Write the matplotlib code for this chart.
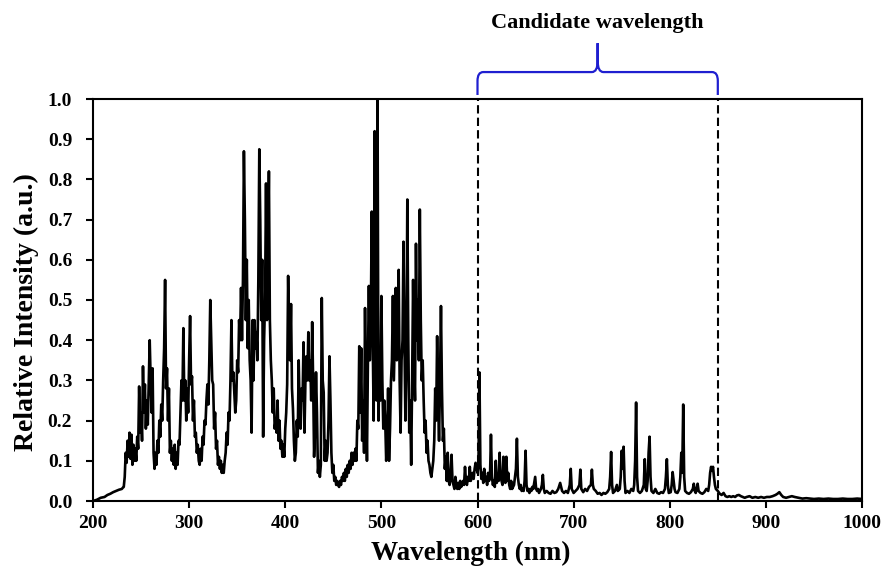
import numpy as np
import matplotlib
matplotlib.use("Agg")
import matplotlib.pyplot as plt
import matplotlib.transforms as mtransforms
from matplotlib.path import Path
from matplotlib.patches import PathPatch

plt.rcParams['font.family'] = ['Liberation Serif', 'DejaVu Serif']
plt.rcParams['font.weight'] = 'bold'

# ---- spectrum ----
# slow rise before the first lines
wl_head = [200, 204, 208, 212, 215, 218, 221, 224, 227]
int_head = [0.000, 0.003, 0.008, 0.010, 0.015, 0.018, 0.022, 0.025, 0.028]

# dense part, one value per nm from 230 to 669 nm (rows of 10 nm)
wl_dense = np.arange(230, 670)
int_dense = [
    0.030, 0.033, 0.035, 0.060, 0.120, 0.095, 0.150, 0.110, 0.170, 0.105,  # 230
    0.165, 0.090, 0.140, 0.100, 0.130, 0.100, 0.160, 0.130, 0.285, 0.170,  # 240
    0.220, 0.150, 0.335, 0.220, 0.290, 0.180, 0.250, 0.190, 0.300, 0.400,  # 250
    0.300, 0.220, 0.330, 0.120, 0.080, 0.120, 0.090, 0.150, 0.120, 0.200,  # 260
    0.160, 0.240, 0.200, 0.300, 0.380, 0.550, 0.280, 0.330, 0.200, 0.280,  # 270
    0.120, 0.150, 0.100, 0.130, 0.090, 0.140, 0.080, 0.120, 0.090, 0.150,  # 280
    0.140, 0.220, 0.300, 0.250, 0.430, 0.250, 0.300, 0.200, 0.280, 0.220,  # 290
    0.350, 0.460, 0.290, 0.310, 0.200, 0.250, 0.160, 0.170, 0.120, 0.140,  # 300
    0.100, 0.090, 0.130, 0.100, 0.160, 0.140, 0.200, 0.190, 0.250, 0.290,  # 310
    0.240, 0.350, 0.500, 0.400, 0.300, 0.290, 0.180, 0.220, 0.130, 0.150,  # 320
    0.090, 0.110, 0.080, 0.100, 0.070, 0.090, 0.070, 0.100, 0.120, 0.170,  # 330
    0.140, 0.220, 0.200, 0.300, 0.450, 0.300, 0.320, 0.270, 0.220, 0.250,  # 340
    0.350, 0.320, 0.450, 0.400, 0.530, 0.400, 0.550, 0.870, 0.700, 0.450,  # 350
    0.600, 0.380, 0.500, 0.350, 0.300, 0.170, 0.450, 0.300, 0.450, 0.380,  # 360
    0.420, 0.350, 0.550, 0.875, 0.700, 0.450, 0.600, 0.160, 0.400, 0.500,  # 370
    0.790, 0.450, 0.600, 0.820, 0.450, 0.350, 0.300, 0.220, 0.280, 0.180,  # 380
    0.200, 0.170, 0.250, 0.150, 0.200, 0.130, 0.150, 0.110, 0.140, 0.110,  # 390
    0.180, 0.220, 0.290, 0.560, 0.400, 0.350, 0.490, 0.280, 0.230, 0.150,  # 400
    0.100, 0.120, 0.200, 0.160, 0.350, 0.220, 0.180, 0.280, 0.250, 0.395,  # 410
    0.170, 0.300, 0.360, 0.300, 0.420, 0.300, 0.350, 0.250, 0.445, 0.300,  # 420
    0.110, 0.180, 0.320, 0.220, 0.070, 0.100, 0.060, 0.090, 0.505, 0.300,  # 430
    0.270, 0.100, 0.150, 0.100, 0.120, 0.200, 0.360, 0.250, 0.120, 0.070,  # 440
    0.090, 0.050, 0.060, 0.040, 0.050, 0.040, 0.035, 0.050, 0.040, 0.060,  # 450
    0.050, 0.070, 0.050, 0.080, 0.060, 0.090, 0.070, 0.100, 0.080, 0.120,  # 460
    0.090, 0.120, 0.100, 0.130, 0.100, 0.200, 0.180, 0.385, 0.220, 0.380,  # 470
    0.150, 0.250, 0.120, 0.480, 0.250, 0.100, 0.350, 0.535, 0.350, 0.450,  # 480
    0.720, 0.400, 0.200, 0.920, 0.450, 0.250, 1.000, 0.200, 0.350, 0.250,  # 490
    0.510, 0.300, 0.180, 0.250, 0.200, 0.100, 0.150, 0.280, 0.100, 0.180,  # 500
    0.300, 0.350, 0.510, 0.300, 0.420, 0.530, 0.350, 0.400, 0.575, 0.300,  # 510
    0.170, 0.350, 0.400, 0.645, 0.400, 0.200, 0.350, 0.750, 0.400, 0.170,  # 520
    0.250, 0.090, 0.300, 0.550, 0.350, 0.250, 0.640, 0.400, 0.500, 0.350,  # 530
    0.725, 0.450, 0.300, 0.350, 0.250, 0.170, 0.200, 0.120, 0.150, 0.100,  # 540
    0.090, 0.070, 0.060, 0.080, 0.100, 0.150, 0.280, 0.200, 0.410, 0.250,  # 550
    0.150, 0.300, 0.485, 0.280, 0.150, 0.180, 0.080, 0.110, 0.050, 0.120,  # 560
    0.050, 0.040, 0.060, 0.115, 0.050, 0.040, 0.030, 0.060, 0.040, 0.030,  # 570
    0.045, 0.030, 0.050, 0.035, 0.040, 0.050, 0.040, 0.085, 0.050, 0.040,  # 580
    0.060, 0.050, 0.085, 0.050, 0.060, 0.070, 0.055, 0.080, 0.095, 0.085,  # 590
    0.070, 0.090, 0.320, 0.090, 0.055, 0.070, 0.045, 0.080, 0.050, 0.060,  # 600
    0.040, 0.070, 0.050, 0.060, 0.165, 0.060, 0.040, 0.050, 0.035, 0.100,  # 610
    0.045, 0.060, 0.050, 0.120, 0.060, 0.050, 0.040, 0.110, 0.060, 0.045,  # 620
    0.110, 0.050, 0.070, 0.040, 0.030, 0.050, 0.030, 0.035, 0.040, 0.060,  # 630
    0.080, 0.155, 0.060, 0.040, 0.030, 0.040, 0.025, 0.030, 0.025, 0.050,  # 640
    0.125, 0.040, 0.025, 0.030, 0.020, 0.030, 0.025, 0.035, 0.030, 0.045,  # 650
    0.060, 0.030, 0.025, 0.030, 0.020, 0.025, 0.030, 0.040, 0.065, 0.030,  # 660
]

# near-IR tail, sparse lines on a flat base
wl_tail = [670, 672, 674, 676, 678, 680, 682, 684, 686, 688, 690, 692, 694, 696,
           697, 698, 700, 702, 704, 706, 707, 708, 710, 712, 714, 716, 718, 719,
           720, 721, 723, 725, 727, 729, 731, 733, 735, 737, 738, 739, 740, 741,
           743, 745, 746, 748, 749, 750, 751, 752, 753, 754, 756, 758, 760, 762,
           763, 764, 765, 766, 767, 769, 771, 773, 774, 775, 776, 777, 778, 779,
           780, 781, 783, 785, 787, 789, 791, 793, 795, 796, 797, 798, 799, 801,
           802, 803, 804, 805, 806, 808, 810, 811, 812, 813, 814, 815, 816, 818,
           820, 822, 824, 825, 826, 827, 828, 829, 830, 832, 834, 836, 838, 840,
           841, 842, 843, 844, 845, 846, 847, 848, 850, 852, 854, 856, 858, 860,
           862, 864, 866, 868, 870, 872, 874, 876, 878, 880, 883, 886, 889, 892,
           895, 898, 901, 904, 907, 910, 912, 914, 916, 918, 921, 924, 927, 930,
           934, 938, 942, 946, 950, 955, 960, 965, 970, 975, 980, 985, 990, 995,
           1000]
int_tail = [0.020, 0.025, 0.020, 0.018, 0.025, 0.020, 0.022, 0.030, 0.045, 0.025,
            0.020, 0.025, 0.020, 0.040, 0.080, 0.030, 0.020, 0.025, 0.030, 0.040,
            0.078, 0.030, 0.022, 0.030, 0.025, 0.035, 0.040, 0.078, 0.040, 0.030,
            0.025, 0.018, 0.020, 0.015, 0.020, 0.018, 0.022, 0.030, 0.060, 0.122,
            0.040, 0.020, 0.025, 0.040, 0.025, 0.030, 0.060, 0.125, 0.080, 0.135,
            0.050, 0.020, 0.025, 0.020, 0.030, 0.025, 0.040, 0.100, 0.245, 0.060,
            0.025, 0.020, 0.025, 0.040, 0.104, 0.030, 0.025, 0.050, 0.120, 0.160,
            0.060, 0.025, 0.020, 0.030, 0.020, 0.018, 0.022, 0.020, 0.030, 0.060,
            0.104, 0.040, 0.020, 0.022, 0.040, 0.072, 0.050, 0.030, 0.022, 0.020,
            0.030, 0.060, 0.120, 0.070, 0.240, 0.060, 0.025, 0.020, 0.018, 0.022,
            0.030, 0.043, 0.025, 0.020, 0.030, 0.043, 0.025, 0.020, 0.018, 0.022,
            0.030, 0.025, 0.040, 0.070, 0.085, 0.075, 0.085, 0.060, 0.040, 0.030,
            0.025, 0.018, 0.015, 0.020, 0.012, 0.010, 0.012, 0.010, 0.012, 0.010,
            0.014, 0.015, 0.012, 0.010, 0.008, 0.010, 0.012, 0.008, 0.010, 0.008,
            0.010, 0.008, 0.010, 0.010, 0.012, 0.015, 0.018, 0.022, 0.015, 0.010,
            0.008, 0.010, 0.012, 0.010, 0.008, 0.006, 0.007, 0.006, 0.005, 0.006,
            0.005, 0.006, 0.005, 0.005, 0.006, 0.005, 0.005, 0.006, 0.005]

candidate_range = [600, 850]
candidate_label = "Candidate wavelength"

wavelength = np.concatenate([wl_head, wl_dense, wl_tail])
intensity = np.concatenate([int_head, int_dense, int_tail])

# ---- figure ----
fig = plt.figure(figsize=(8.86, 5.71), dpi=100)
ax = fig.add_axes([93 / 886, 70 / 571, 769 / 886, 402 / 571])

ax.plot(wavelength, intensity, color='black', lw=1.9)

for x in candidate_range:
    ax.axvline(x, color='black', lw=1.5, ls=(0, (4, 2)))

ax.set_xlim(200, 1000)
ax.set_ylim(0, 1.0)
ax.set_xticks(np.arange(200, 1001, 100))
ax.set_yticks(np.arange(0, 1.01, 0.1))
ax.yaxis.set_major_formatter(matplotlib.ticker.FormatStrFormatter('%.1f'))
ax.tick_params(axis='both', direction='out', length=5, width=1.5, labelsize=14)
ax.tick_params(axis='x', pad=5)
ax.tick_params(axis='y', pad=10)
for sp in ax.spines.values():
    sp.set_linewidth(1.5)

ax.set_xlabel("Wavelength (nm)", fontsize=19.5, fontweight='bold')
ax.xaxis.set_label_coords(0.4915, -0.1)
ax.set_ylabel("Relative Intensity (a.u.)", fontsize=20, fontweight='bold')
ax.yaxis.set_label_coords(-0.07, 0.47)

# curly bracket over the candidate range (x in nm, y in axes fraction)
trans = mtransforms.blended_transform_factory(ax.transData, ax.transAxes)
x0, x1 = candidate_range
xm = (x0 + x1) / 2
r = 6
y_end, y_bar, y_knee, y_tip = 1.01, 1.067, 1.095, 1.139
verts = [(x0, y_end), (x0, y_bar - 0.022), (x0, y_bar), (x0 + r, y_bar),
         (xm - r, y_bar), (xm, y_bar), (xm, y_knee), (xm, y_tip),
         (xm, y_knee), (xm, y_bar), (xm + r, y_bar),
         (x1 - r, y_bar), (x1, y_bar), (x1, y_bar - 0.022), (x1, y_end)]
codes = [Path.MOVETO, Path.LINETO, Path.CURVE3, Path.CURVE3,
         Path.LINETO, Path.CURVE3, Path.CURVE3, Path.LINETO,
         Path.LINETO, Path.CURVE3, Path.CURVE3,
         Path.LINETO, Path.CURVE3, Path.CURVE3, Path.LINETO]
brace = PathPatch(Path(verts, codes), transform=trans, fill=False,
                  edgecolor='#1f1fd0', lw=1.6, clip_on=False)
ax.add_patch(brace)
ax.text(xm, 1.189, candidate_label, transform=trans, ha='center', va='center',
        fontsize=16, fontweight='bold')

fig.savefig("out.png", dpi=100)
